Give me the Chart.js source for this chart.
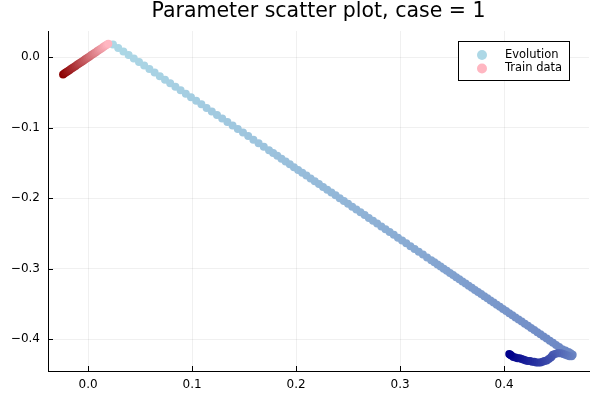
<!DOCTYPE html>
<html>
<head>
<meta charset="utf-8">
<script src="https://cdn.jsdelivr.net/npm/chart.js@4/dist/chart.umd.min.js"></script>
<style>
  html, body { margin: 0; padding: 0; background: #fff; }
  #wrap { width: 600px; height: 400px; }
</style>
</head>
<body>
<div id="wrap"><canvas id="chart" width="600" height="400"></canvas></div>
<script>
const chartTitle = "Parameter scatter plot, case = 1";
const seriesNames = ["Evolution", "Train data"];

// Evolution path (light blue -> navy)
const evoX = [0.024, 0.029, 0.034, 0.039, 0.044, 0.049, 0.054, 0.059, 0.064, 0.069,
  0.074, 0.079, 0.084, 0.089, 0.094, 0.099, 0.104, 0.109, 0.114, 0.119,
  0.124, 0.129, 0.134, 0.139, 0.144, 0.149, 0.154, 0.159, 0.164, 0.169, 0.174,
  0.178, 0.182, 0.186, 0.190, 0.194, 0.198, 0.202, 0.206, 0.210, 0.214,
  0.218, 0.222, 0.226, 0.230, 0.234, 0.238, 0.242, 0.246, 0.250, 0.254,
  0.258, 0.262, 0.266, 0.270, 0.274, 0.278, 0.282, 0.286, 0.290, 0.294,
  0.298, 0.302, 0.306, 0.310, 0.314, 0.318, 0.322, 0.326, 0.330,
  0.333, 0.336, 0.339, 0.342, 0.345, 0.348, 0.351, 0.354, 0.357, 0.360,
  0.363, 0.366, 0.369, 0.372, 0.375, 0.378, 0.381, 0.384, 0.387, 0.390,
  0.393, 0.396, 0.399, 0.402, 0.405, 0.408, 0.411, 0.414, 0.417, 0.420,
  0.423, 0.426, 0.429, 0.432, 0.435, 0.438, 0.441, 0.444, 0.447, 0.450,
  0.453, 0.456, 0.459, 0.462, 0.464, 0.466,
  0.465, 0.463, 0.461, 0.459, 0.457, 0.455, 0.453, 0.451, 0.449, 0.447,
  0.446, 0.445, 0.443, 0.441, 0.439, 0.437, 0.435, 0.433, 0.431, 0.429,
  0.427, 0.425, 0.423, 0.421, 0.419, 0.417, 0.415, 0.413, 0.411, 0.409,
  0.407, 0.406, 0.405];
const evoY = [0.018, 0.013, 0.008, 0.003, -0.002, -0.007, -0.012, -0.017, -0.022, -0.027,
  -0.032, -0.037, -0.042, -0.047, -0.052, -0.057, -0.062, -0.067, -0.072, -0.077,
  -0.082, -0.087, -0.092, -0.097, -0.102, -0.107, -0.112, -0.117, -0.122, -0.127, -0.132,
  -0.136, -0.140, -0.144, -0.148, -0.152, -0.156, -0.160, -0.164, -0.168, -0.172,
  -0.176, -0.180, -0.184, -0.188, -0.192, -0.196, -0.200, -0.204, -0.208, -0.212,
  -0.216, -0.220, -0.224, -0.228, -0.232, -0.236, -0.240, -0.244, -0.248, -0.252,
  -0.256, -0.260, -0.264, -0.268, -0.272, -0.276, -0.280, -0.284, -0.288,
  -0.291, -0.294, -0.297, -0.300, -0.303, -0.306, -0.309, -0.312, -0.315, -0.318,
  -0.321, -0.324, -0.327, -0.330, -0.333, -0.336, -0.339, -0.342, -0.345, -0.348,
  -0.351, -0.354, -0.357, -0.360, -0.363, -0.366, -0.369, -0.372, -0.375, -0.378,
  -0.381, -0.384, -0.387, -0.390, -0.393, -0.396, -0.399, -0.402, -0.405, -0.408,
  -0.411, -0.414, -0.416, -0.418, -0.420, -0.422,
  -0.424, -0.424, -0.423, -0.422, -0.421, -0.420, -0.420, -0.420, -0.421, -0.422,
  -0.424, -0.426, -0.428, -0.430, -0.431, -0.432, -0.433, -0.433, -0.433, -0.432,
  -0.432, -0.431, -0.431, -0.430, -0.429, -0.428, -0.427, -0.427, -0.426, -0.425,
  -0.423, -0.422, -0.421];
const evoCorner = 115; // index of the turning point

// Train data (dark red -> pink)
const trainX = [-0.0240, -0.0225, -0.0210, -0.0195, -0.0180, -0.0165, -0.0150, -0.0135, -0.0120, -0.0105,
  -0.0090, -0.0075, -0.0060, -0.0045, -0.0030, -0.0015, 0.0000, 0.0015, 0.0030, 0.0045,
  0.0060, 0.0075, 0.0090, 0.0105, 0.0120, 0.0135, 0.0150, 0.0165, 0.0180, 0.0195];
const trainY = [-0.0245, -0.0230, -0.0215, -0.0200, -0.0185, -0.0170, -0.0155, -0.0140, -0.0125, -0.0110,
  -0.0095, -0.0080, -0.0065, -0.0050, -0.0035, -0.0020, -0.0005, 0.0010, 0.0025, 0.0040,
  0.0055, 0.0070, 0.0085, 0.0100, 0.0115, 0.0130, 0.0145, 0.0160, 0.0175, 0.0190];

const xTicks = [0.0, 0.1, 0.2, 0.3, 0.4];
const yTicks = [0.0, -0.1, -0.2, -0.3, -0.4];
const xRange = [-0.0385, 0.4817];
const yRange = [-0.445, 0.037];

function mix(a, b, t) {
  return "rgb(" + a.map((v, k) => Math.round(v + (b[k] - v) * t)).join(",") + ")";
}
const lightBlue = [173, 216, 230], navy = [0, 0, 139];
const darkRed = [139, 0, 0], lightPink = [255, 182, 193];

const evoColors = evoX.map((_, i) => {
  const n = evoX.length - 1;
  const t = i <= evoCorner ? 0.38 * i / evoCorner : 0.38 + 0.62 * (i - evoCorner) / (n - evoCorner);
  return mix(lightBlue, navy, t);
});
const trainColors = trainX.map((_, i) => mix(darkRed, lightPink, i / (trainX.length - 1)));

const fmt = v => (v < 0 ? "\u2212" : "") + Math.abs(v).toFixed(1);

// title centred on the plot area, inward ticks, boxed legend
const plotsLook = {
  id: "plotsLook",
  afterDraw(chart) {
    const { ctx, chartArea: a, scales } = chart;
    ctx.save();
    ctx.fillStyle = "#000";
    ctx.font = "20.5px 'DejaVu Sans'";
    ctx.textAlign = "center";
    ctx.textBaseline = "middle";
    ctx.fillText(chartTitle, (a.left + a.right) / 2, 12);

    ctx.strokeStyle = "#000";
    ctx.lineWidth = 1;
    ctx.beginPath();
    xTicks.forEach(v => {
      const px = Math.round(scales.x.getPixelForValue(v)) + 0.5;
      ctx.moveTo(px, a.bottom); ctx.lineTo(px, a.bottom - 5);
    });
    yTicks.forEach(v => {
      const py = Math.round(scales.y.getPixelForValue(v)) + 0.5;
      ctx.moveTo(a.left, py); ctx.lineTo(a.left + 5, py);
    });
    ctx.stroke();

    // legend
    const bx = 458.5, by = 41.5, bw = 111, bh = 39;
    ctx.fillStyle = "#fff";
    ctx.fillRect(bx, by, bw, bh);
    ctx.strokeRect(bx, by, bw, bh);
    const swatch = [mix(lightBlue, lightBlue, 0), mix(lightPink, lightPink, 0)];
    ctx.font = "11.5px 'DejaVu Sans'";
    ctx.textAlign = "left";
    seriesNames.forEach((name, i) => {
      const cy = 55 + i * 13.5;
      ctx.fillStyle = swatch[i];
      ctx.beginPath();
      ctx.arc(482, cy, 5, 0, Math.PI * 2);
      ctx.fill();
      ctx.fillStyle = "#000";
      ctx.fillText(name, 505, cy);
    });
    ctx.restore();
  }
};

new Chart(document.getElementById("chart"), {
  type: "scatter",
  data: {
    datasets: [
      {
        label: seriesNames[0],
        data: evoX.map((x, i) => ({ x, y: evoY[i] })),
        pointBackgroundColor: evoColors,
        pointBorderColor: evoColors,
        pointBorderWidth: 0,
        pointRadius: 4,
        order: 1
      },
      {
        label: seriesNames[1],
        data: trainX.map((x, i) => ({ x, y: trainY[i] })),
        pointBackgroundColor: trainColors,
        pointBorderColor: trainColors,
        pointBorderWidth: 0,
        pointRadius: 4,
        order: 0
      }
    ]
  },
  options: {
    responsive: false,
    animation: false,
    layout: { padding: { top: 31, right: 11, left: 0, bottom: 0 } },
    plugins: { legend: { display: false }, title: { display: false }, tooltip: { enabled: false } },
    scales: {
      x: {
        type: "linear",
        min: xRange[0],
        max: xRange[1],
        afterFit: s => { s.height = 29; },
        afterBuildTicks: s => { s.ticks = xTicks.map(v => ({ value: v })); },
        grid: { color: "rgba(0,0,0,0.06)", drawTicks: false },
        border: { color: "#000", width: 1 },
        ticks: {
          padding: 7,
          color: "#000",
          font: { family: "DejaVu Sans", size: 12 },
          callback: v => fmt(v)
        }
      },
      y: {
        type: "linear",
        min: yRange[0],
        max: yRange[1],
        afterFit: s => { s.width = 48; },
        afterBuildTicks: s => { s.ticks = yTicks.map(v => ({ value: v })); },
        grid: { color: "rgba(0,0,0,0.06)", drawTicks: false },
        border: { color: "#000", width: 1 },
        ticks: {
          padding: 8,
          color: "#000",
          font: { family: "DejaVu Sans", size: 12 },
          callback: v => fmt(v)
        }
      }
    }
  },
  plugins: [plotsLook]
});
</script>
</body>
</html>
